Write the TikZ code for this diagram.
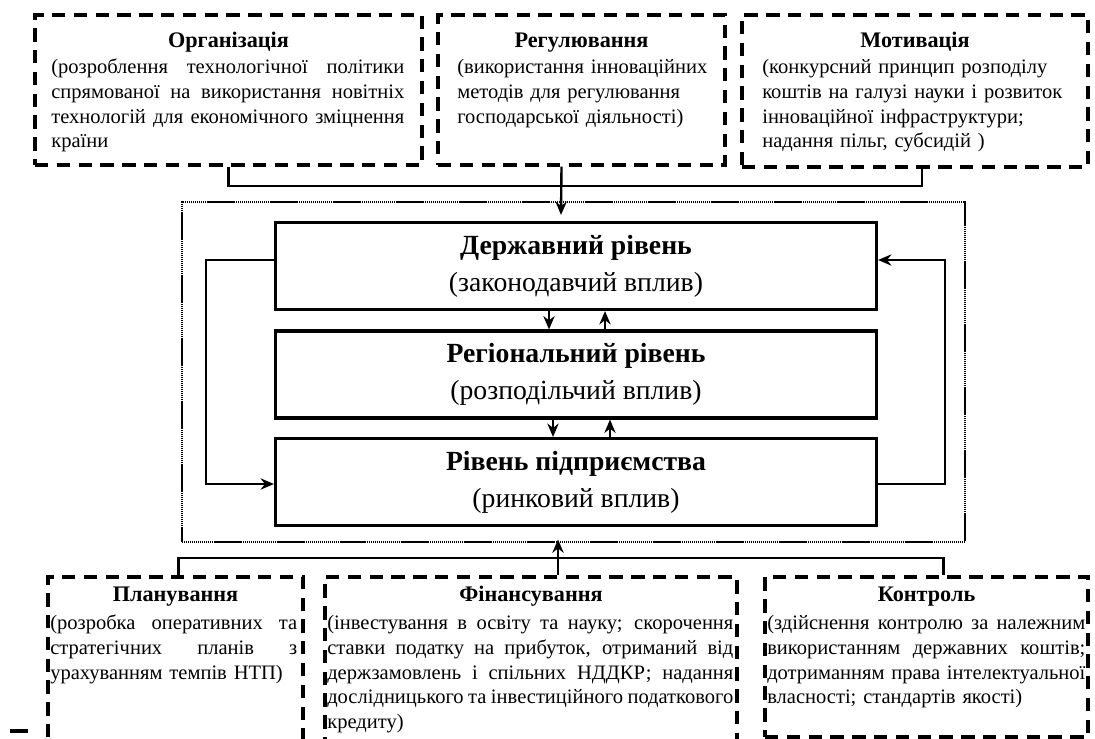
\documentclass[tikz,border=0pt]{standalone}
\usepackage{fontspec}
\setmainfont{Liberation Serif}
\usetikzlibrary{arrows.meta,fit}
\setlength{\parindent}{0pt}
\newlength{\px}\setlength{\px}{0.025cm}
\newcommand{\jline}[1]{{\spaceskip=0pt\makebox[\hsize][s]{#1}}\\}
\newcommand{\boxfont}{\fontsize{14.6}{17.6}\selectfont}
\newcommand{\levelfont}{\fontsize{19.7}{26.5}\selectfont}

\begin{document}
\begin{tikzpicture}
[x=0.025cm, y=-0.025cm,
  boxDecorate/.style={draw, line width=2.2pt, dash pattern=on 9.5pt off 6pt, inner sep=0pt},
  levelDecorate/.style={draw, line width=2.2pt, minimum width=601\px, minimum height=87\px,
    align=center, inner sep=0pt, font=\levelfont, execute at begin node=\rule{0pt}{27pt}},
  frameDecorate/.style={draw, line width=2pt, dash pattern=on 1pt off 0.4pt, inner sep=0pt},
  titleDecorate/.style={font=\bfseries\fontsize{15.8}{17.6}\selectfont, inner sep=0pt},
  textDecorate/.style={font=\boxfont, align=left, inner sep=0pt, anchor=north west},
  lineDecorate/.style={line width=1.7pt},
  arrowDecorate/.style={line width=1.7pt, -{Stealth[length=9.5pt,width=8pt]}}]
\useasboundingbox (0,0) rectangle (1095,738);
\clip (0,0) rectangle (1095,738);
%% dashed boxes
\foreach \boxname/\xa/\ya/\xb/\yb in {
  org/35/15/422/165, reg/438/15/725/165, mot/742/15/1088/167,
  plan/48/577/303/770, fin/325/577/737/770, ctrl/765/577/1088/737}
{
  \node[boxDecorate, fit={(\xa,\ya) (\xb,\yb)}] (\boxname) {};
}
%% titles
\foreach \boxname/\title/\y in {
  org/Організація/47, reg/Регулювання/47, mot/Мотивація/47,
  plan/Планування/601, fin/Фінансування/601, ctrl/Контроль/601}
{
  \node[titleDecorate, anchor=base] (\boxname title) at (\boxname.center |- 0,\y) {\title};
}
%% texts
\node[textDecorate, text width=8.825cm] (org text) at (51,56) {\strut
  \jline{(розроблення технологічної політики}
  \jline{спрямованої на використання новітніх}
  \jline{технологій для економічного зміцнення}
  країни};
\node[textDecorate, text width=6.75cm] (reg text) at (457,56) {\strut
  (використання інноваційних\\методів для регулювання\\господарської діяльності)};
\node[textDecorate, text width=8.05cm] (mot text) at (762,56) {\strut
  (конкурсний принцип розподілу\\коштів на галузі науки і розвиток\\
  інноваційної інфраструктури;\\надання пільг, субсидій )};
\node[textDecorate, text width=6.175cm] (plan text) at (50,612) {\strut
  \jline{(розробка оперативних та}
  \jline{стратегічних планів з}
  урахуванням темпів НТП)};
\node[textDecorate, text width=10.15cm] (fin text) at (327,612) {\strut
  \jline{(інвестування в освіту та науку; скорочення}
  \jline{ставки податку на прибуток, отриманий від}
  \jline{держзамовлень і спільних НДДКР; надання}
  \jline{дослідницького та інвестиційного податкового}
  кредиту)};
\node[textDecorate, text width=7.95cm] (ctrl text) at (767,612) {\strut
  \jline{(здійснення контролю за належним}
  \jline{використанням державних коштів;}
  \jline{дотриманням права інтелектуальної}
  власності; стандартів якості)};
%% levels
\node[frameDecorate, fit={(182,202) (965,542)}] (frame) {};
\node[levelDecorate] (state) at (576,266) {\textbf{Державний рівень}\\(законодавчий вплив)};
\node[levelDecorate] (region) at (576,374.5) {\textbf{Регіональний рівень}\\(розподільчий вплив)};
\node[levelDecorate] (firm) at (576,482) {\textbf{Рівень підприємства}\\(ринковий вплив)};
%% connectors
\coordinate (topbus) at (561,186);
\coordinate (lowbus) at (558,558);
\draw[lineDecorate] (org.south) |- (topbus) -| ([xshift=7\px]mot.south);
\draw[arrowDecorate] ([xshift=-20\px]reg.south) -- ([yshift=6\px]topbus |- state.north);
\draw[lineDecorate] ([xshift=3\px]plan.north) |- (lowbus) -| ([xshift=17\px]ctrl.north);
\draw[arrowDecorate] ([xshift=27\px]fin.north) -- ([yshift=4\px]lowbus |- frame.south);
\foreach \upper/\lower/\down/\up in {state/region/-27/29, region/firm/-23/34}
{
  \draw[arrowDecorate] ([xshift=\down\px]\upper.south) -- ([xshift=\down\px]\lower.north);
  \draw[arrowDecorate] ([xshift=\up\px]\lower.north) -- ([xshift=\up\px]\upper.south);
}
\draw[arrowDecorate] ([yshift=6\px]state.west) -- ++(-68,0) |- ([yshift=-2\px]firm.west);
\draw[arrowDecorate] ([yshift=-2\px]firm.east) -- ++(67,0) |- ([yshift=6\px]state.east);
\draw[line width=2.2pt] (10,731) -- (28,731);
\end{tikzpicture}
\end{document}
